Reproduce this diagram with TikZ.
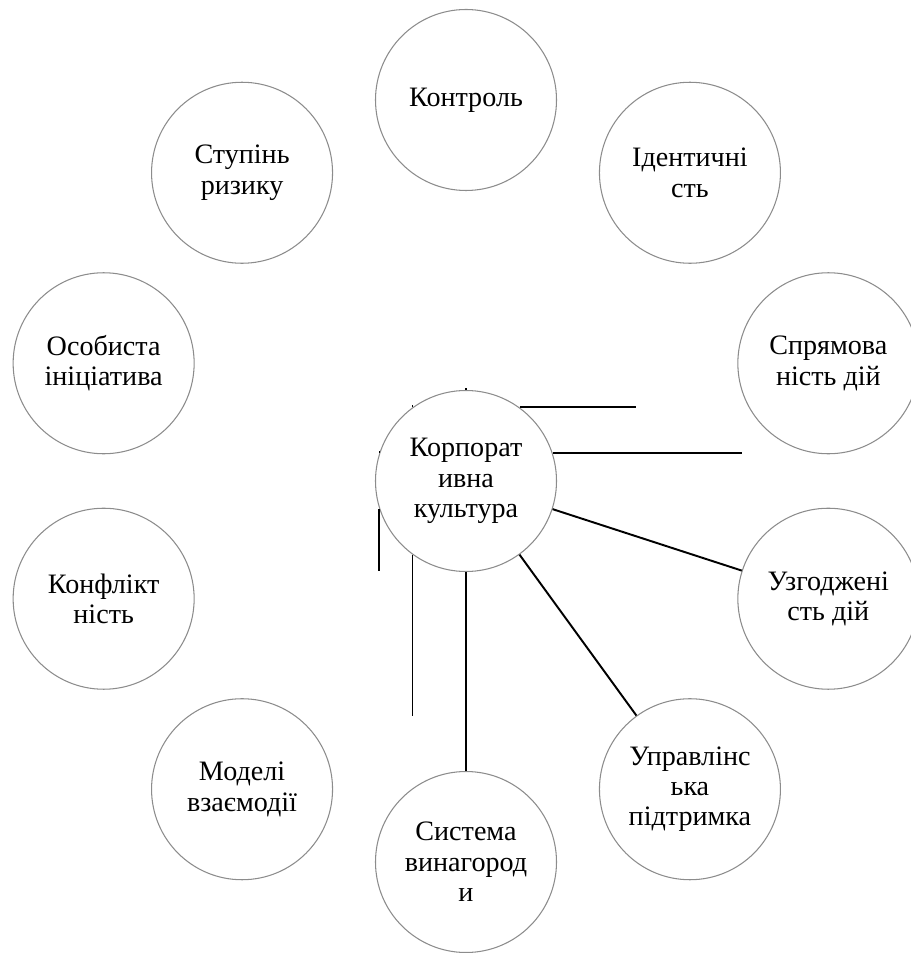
\documentclass[tikz,border=0pt]{standalone}
\usepackage{fontspec}
\setmainfont{Liberation Serif}
\usetikzlibrary{positioning}

\begin{document}
\begin{tikzpicture}[
			topic/.style={
				draw=black!45,
				line width=0.6pt,
				circle,
				fill=white,
				minimum size=3.62cm,
				inner sep=0pt,
				align=center,
				font=\fontsize{16}{17.3}\selectfont
			},
			link/.style={
				draw,
				line width=1.1pt
			}
			]
			\useasboundingbox (-9.32,-9.44) rectangle (8.88,9.62);
			\node[topic] (core) at (0,0)
			  {Корпорат\\ивна\\культура};
			\node[topic] (ctrl) at (90:7.62)
			  {Контроль};
			\node[topic] (ident) at (54:7.62)
			  {Ідентичні\\сть};
			\node[topic] (direct) at (18:7.62)
			  {Спрямова\\ність дій};
			\node[topic] (agreed) at (-18:7.62)
			  {Узгоджені\\сть дій};
			\node[topic] (mgmt) at (-54:7.62)
			  {Управлінс\\ька\\підтримка};
			\node[topic] (reward) at (-90:7.62)
			  {Система\\винагород\\и};
			\node[topic] (models) at (-126:7.62)
			  {Моделі\\взаємодії};
			\node[topic] (conflict) at (-162:7.62)
			  {Конфлікт\\ність};
			\node[topic] (init) at (162:7.62)
			  {Особиста\\ініціатива};
			\node[topic] (risk) at (126:7.62)
			  {Ступінь\\ризику};

			\coordinate (ident-end) at (mgmt.126 |- core.54);
			\coordinate (direct-end) at (agreed.162 |- core.18);
			\coordinate (models-end) at (core.-126 |- mgmt.126);
			\coordinate (conflict-end) at (core.-162 |- agreed.162);
			\coordinate (ctrl-end) at ([yshift=1.2pt]core.90);
			\coordinate (risk-end) at ([yshift=1.2pt]core.126);
			\coordinate (init-end) at ([yshift=1.2pt]core.162);

			\draw[link] (core.54) -- (ident-end);
			\draw[link] (core.18) -- (direct-end);
			\draw[link] (core) -- (agreed);
			\draw[link] (core) -- (mgmt);
			\draw[link] (core) -- (reward);
			\draw[link] (core.-126) -- (models-end);
			\draw[link] (core.-162) -- (conflict-end);
			\draw[line width=0.6pt] (core.90) -- (ctrl-end);
			\draw[line width=0.6pt] (core.126) -- (risk-end);
			\draw[line width=0.6pt] (core.162) -- (init-end);
        \end{tikzpicture}
\end{document}
